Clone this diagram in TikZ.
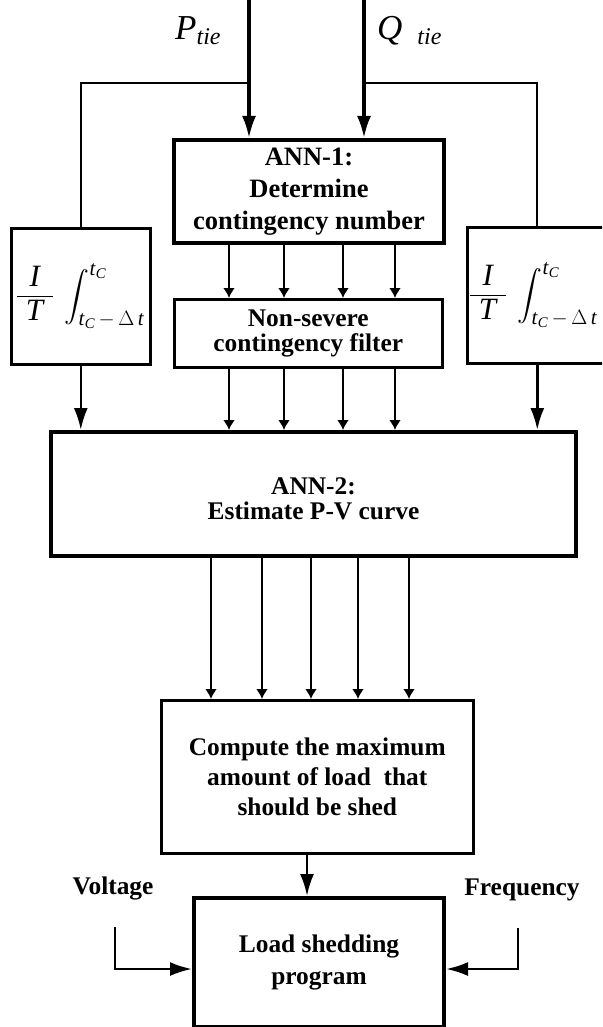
\documentclass[tikz,border=0pt]{standalone}
\usepackage{amsmath}
\usepackage{fontspec}
\setmainfont{Liberation Serif}
\usetikzlibrary{arrows.meta}
\newcommand{\myfrac}{\frac{\makebox[36pt]{\fontsize{31}{31}\selectfont\textit{I}}}{\makebox[36pt]{\fontsize{31}{31}\selectfont\textit{T}}}}
\newcommand{\mylimlow}{\mbox{\fontsize{21}{21}\selectfont\textit{t}$_{\textit{C}}$\,$-$\,$\Delta$\,\textit{t}}}
\newcommand{\mylimup}{\mbox{\fontsize{21}{21}\selectfont\textit{t}$_{\textit{C}}$}}
\begin{document}
\begin{tikzpicture}[x=1pt,y=-1pt,
  bx/.style={draw, inner sep=0pt, align=center, anchor=north west, font=\bfseries\fontsize{25.4}{30}\selectfont},
  thickbox/.style={bx, line width=4pt},
  thinbox/.style={bx, line width=2.6pt},
  bigarr/.style={line width=2.6pt, -{Latex[length=22pt,width=14pt]}},
  smallarr/.style={line width=2.2pt, -{Latex[length=10pt,width=12pt]}},
  wire/.style={line width=2.2pt},
  lab/.style={font=\bfseries\fontsize{25.4}{30}\selectfont, inner sep=0pt},
  intmath/.style={anchor=west, inner sep=0pt, font=\fontsize{26}{30}\selectfont}]
\useasboundingbox (0,0) rectangle (602,1027);
\clip (0,0) rectangle (602,1027);
\fill[white] (0,0) rectangle (602,1027);

% boxes
\node[thickbox, minimum width=270pt, minimum height=103pt, font=\bfseries\fontsize{26.5}{32}\selectfont] (ann1) at (172,138) {ANN-1:\\Determine\\contingency number};
\node[thinbox, minimum width=268pt, minimum height=68pt, font=\bfseries\fontsize{25.4}{24.5}\selectfont] (filter) at (173,298) {Non-severe\\contingency filter};
\node[thickbox, minimum width=525pt, minimum height=124pt, font=\bfseries\fontsize{25.4}{25}\selectfont] (ann2) at (49,430) {\raisebox{-8pt}[\height][\depth]{\begin{tabular}{@{}c@{}}ANN-2:\\Estimate P-V curve\end{tabular}}};
\node[thinbox, minimum width=312pt, minimum height=153pt, font=\bfseries\fontsize{25.4}{30}\selectfont] (compute) at (160,699) {Compute the maximum\\amount of load\ \ that\\should be shed};
\node[thickbox, minimum width=250pt, minimum height=129pt, font=\bfseries\fontsize{25.4}{32}\selectfont] (load) at (192,896) {Load shedding\\program};
\node[thinbox, minimum width=139pt, minimum height=136pt] (intL) at (10,227) {};
\node[thinbox, minimum width=140pt, minimum height=136pt] (intR) at (466,226) {};

% integral contents
\node[intmath] (fL) at ([xshift=6pt]intL.west) {$\displaystyle\myfrac\hspace{6pt}\int_{\mylimlow}^{\mylimup}$};
\node[intmath] (fR) at ([xshift=3pt]intR.west) {$\displaystyle\myfrac\hspace{6pt}\int_{\mylimlow}^{\mylimup}$};

% input labels
\node[anchor=base west, inner sep=0pt, font=\fontsize{35}{35}\selectfont] (ptie) at (175,40) {\textit{P}\raisebox{-5pt}{\fontsize{24}{24}\selectfont\textit{tie}}};
\node[anchor=base west, inner sep=0pt, font=\fontsize{35}{35}\selectfont] (qtie) at (377,40) {\textit{Q}\hspace{15pt}\raisebox{-5pt}{\fontsize{24}{24}\selectfont\textit{tie}}};
\node[lab] (volt) at (113,888) {Voltage};
\node[lab] (freq) at (522,890) {Frequency};

% connectors
\coordinate (pin) at (249,0);
\coordinate (qin) at (364,0);
\draw[bigarr, line width=3.2pt] (pin) -- (pin |- ann1.north);
\draw[bigarr, line width=3.2pt] (qin) -- (qin |- ann1.north);
\coordinate (pb) at (249,83);
\coordinate (qb) at (364,83);
\draw[wire] (pb) -| (intL.north);
\draw[wire] (qb) -| (intR.north);
\draw[bigarr] (intL.south) -- (intL.south |- ann2.north);
\draw[bigarr] (intR.south) -- (intR.south |- ann2.north);

\foreach \x [count=\i] in {229,284,343,395} {
  \coordinate (a\i) at (\x,0);
  \draw[smallarr] (ann1.south -| a\i) -- (filter.north -| a\i);
  \draw[smallarr] (filter.south -| a\i) -- (ann2.north -| a\i);
}
\foreach \x [count=\i] in {211,262,311,358,409} {
  \coordinate (b\i) at (\x,0);
  \draw[smallarr] (ann2.south -| b\i) -- (compute.north -| b\i);
}
\coordinate (d) at (307,0);
\draw[bigarr] (compute.south -| d) -- (load.north -| d);

\coordinate (vin) at (115,927);
\coordinate (fin) at (518,928);
\draw[bigarr] (vin) |- ([yshift=-6.5pt]load.west);
\draw[bigarr] (fin) |- ([yshift=-6.5pt]load.east);
\end{tikzpicture}
\end{document}
